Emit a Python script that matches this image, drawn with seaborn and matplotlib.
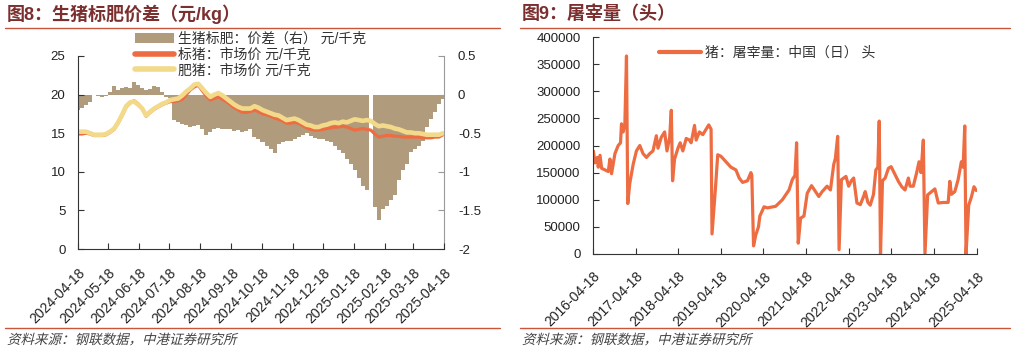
import numpy as np
import pandas as pd
import matplotlib
matplotlib.use('Agg')
import matplotlib.pyplot as plt
import matplotlib.transforms as mtrans
from matplotlib.lines import Line2D
from matplotlib.patches import Patch, PathPatch
from matplotlib.textpath import TextPath
from matplotlib.font_manager import FontProperties
import seaborn as sns

sns.set_style('ticks')
plt.rcParams['font.family'] = ['Liberation Sans', 'Noto Sans CJK SC']
plt.rcParams['axes.unicode_minus'] = False

# ---- 图8 数据：每4天一个点，2024-04-18起 ----
dates_l = pd.date_range('2024-04-18', periods=92, freq='4D')
spread = [-0.20, -0.18, -0.14, -0.10, -0.01, -0.02, -0.03, -0.02, 0.03, 0.11,
          0.06, 0.08, 0.10, 0.09, 0.16, 0.12, 0.09, 0.06, 0.07, 0.11,
          0.10, 0.03, -0.03, -0.05, -0.33, -0.36, -0.38, -0.40, -0.42, -0.41,
          -0.40, -0.45, -0.52, -0.48, -0.44, -0.43, -0.44, -0.45, -0.44, -0.47,
          -0.46, -0.48, -0.47, -0.44, -0.55, -0.58, -0.62, -0.66, -0.70, -0.76,
          -0.64, -0.62, -0.60, -0.60, -0.58, -0.55, -0.52, -0.50, -0.54, -0.56,
          -0.58, -0.58, -0.60, -0.62, -0.66, -0.72, -0.76, -0.84, -0.90, -0.98,
          -1.08, -1.18, -1.24, 0.0, -1.45, -1.62, -1.48, -1.44, -1.36, -1.30,
          -1.10, -0.98, -0.90, -0.74, -0.70, -0.66, -0.60, -0.42, -0.32, -0.22,
          -0.12, -0.06]
std_pig = [14.9, 14.9, 15.0, 14.9, 14.7, 14.7, 14.7, 14.8, 15.1, 15.5,
           16.3, 17.3, 18.4, 18.9, 19.2, 18.8, 18.2, 17.2, 17.7, 18.1,
           18.4, 18.7, 18.9, 19.1, 19.1, 19.2, 19.4, 20.0, 20.6, 21.0,
           21.2, 20.5, 19.8, 19.3, 19.5, 19.7, 19.4, 19.1, 18.7, 18.3,
           18.0, 17.7, 17.7, 17.8, 18.0, 17.8, 17.5, 17.4, 17.2, 17.0,
           16.8, 16.6, 16.3, 16.3, 16.4, 16.3, 16.0, 15.7, 15.5, 15.4,
           15.4, 15.5, 15.6, 15.7, 15.8, 15.8, 15.9, 15.8, 15.6, 15.4,
           15.5, 15.6, 15.5, 15.4, 14.9, 14.5, 14.6, 14.7, 14.7, 14.6,
           14.6, 14.5, 14.5, 14.5, 14.5, 14.5, 14.4, 14.4, 14.4, 14.5,
           14.5, 14.8]
fat_pig = [15.2, 15.2, 15.2, 15.0, 14.8, 14.8, 14.8, 14.9, 15.2, 15.6,
           16.4, 17.4, 18.5, 19.0, 19.1, 18.7, 18.2, 17.3, 17.8, 18.2,
           18.5, 18.8, 19.0, 19.3, 19.4, 19.5, 19.9, 20.4, 20.8, 21.3,
           21.4, 20.8, 20.2, 19.7, 20.0, 20.2, 19.9, 19.5, 19.1, 18.7,
           18.4, 18.2, 18.2, 18.2, 18.5, 18.3, 18.0, 17.8, 17.6, 17.4,
           17.3, 17.0, 16.7, 16.8, 16.9, 16.7, 16.4, 16.1, 16.0, 15.8,
           15.8, 16.0, 16.1, 16.3, 16.4, 16.3, 16.5, 16.4, 16.6, 16.8,
           16.7, 16.6, 16.7, 16.6, 16.2, 15.9, 16.0, 15.9, 15.8, 15.6,
           15.5, 15.3, 15.1, 15.1, 15.0, 15.0, 14.9, 14.8, 14.8, 14.8,
           14.8, 15.0]
xt_left = ['2024-04-18', '2024-05-18', '2024-06-18', '2024-07-18', '2024-08-18',
           '2024-09-18', '2024-10-18', '2024-11-18', '2024-12-18', '2025-01-18',
           '2025-02-18', '2025-03-18', '2025-04-18']

# ---- 图9 数据：屠宰量（头） ----
dates_r = ['2016-04-21', '2016-05-05', '2016-05-25', '2016-06-02', '2016-06-17',
           '2016-07-01', '2016-07-29', '2016-08-27', '2016-09-10', '2016-09-24',
           '2016-10-23', '2016-11-20', '2016-12-10', '2016-12-18', '2017-01-02',
           '2017-01-16', '2017-01-30', '2017-02-10', '2017-02-27', '2017-03-28',
           '2017-04-25', '2017-05-24', '2017-06-21', '2017-07-20', '2017-08-17',
           '2017-09-14', '2017-10-13', '2017-10-27', '2017-11-24', '2017-12-23',
           '2018-01-12', '2018-02-04', '2018-02-18', '2018-03-01', '2018-03-18',
           '2018-04-16', '2018-05-05', '2018-05-28', '2018-06-26', '2018-07-24',
           '2018-08-07', '2018-09-05', '2018-09-19', '2018-10-17', '2018-11-15',
           '2018-12-13', '2019-01-05', '2019-01-25', '2019-02-02', '2019-03-03',
           '2019-03-23', '2019-04-20', '2019-06-02', '2019-07-14', '2019-08-26',
           '2019-09-23', '2019-10-22', '2019-12-03', '2020-01-01', '2020-01-09',
           '2020-01-24', '2020-02-12', '2020-03-06', '2020-03-18', '2020-04-23',
           '2020-05-22', '2020-08-01', '2020-09-27', '2020-11-23', '2020-12-21',
           '2021-01-13', '2021-01-27', '2021-02-10', '2021-03-02', '2021-03-31',
           '2021-04-28', '2021-06-04', '2021-07-08', '2021-08-05', '2021-09-03',
           '2021-10-15', '2021-11-13', '2021-12-11', '2021-12-25', '2022-01-14',
           '2022-01-26', '2022-02-15', '2022-03-26', '2022-04-18', '2022-05-11',
           '2022-05-31', '2022-06-28', '2022-07-27', '2022-08-24', '2022-09-07',
           '2022-09-30', '2022-10-20', '2022-11-17', '2022-12-07', '2022-12-24',
           '2023-01-05', '2023-01-16', '2023-02-02', '2023-02-25', '2023-03-25',
           '2023-04-17', '2023-05-21', '2023-06-18', '2023-07-17', '2023-08-14',
           '2023-09-12', '2023-09-26', '2023-10-24', '2023-11-22', '2023-12-12',
           '2023-12-29', '2024-01-18', '2024-02-01', '2024-02-24', '2024-03-29',
           '2024-04-26', '2024-05-25', '2024-07-06', '2024-08-18', '2024-09-01',
           '2024-09-15', '2024-10-14', '2024-11-11', '2024-12-09', '2024-12-24',
           '2025-01-07', '2025-01-18', '2025-02-10', '2025-03-05', '2025-03-27',
           '2025-04-16']
slaughter = [190000, 168000, 178000, 160000, 182000, 158000, 155000, 152000, 175000, 148000,
             185000, 200000, 205000, 240000, 225000, 240000, 365000, 93000, 130000, 165000,
             190000, 200000, 185000, 178000, 185000, 190000, 218000, 195000, 215000, 225000,
             190000, 215000, 265000, 135000, 175000, 195000, 205000, 190000, 213000, 210000,
             205000, 237000, 210000, 225000, 220000, 230000, 238000, 230000, 37000, 120000,
             183000, 180000, 170000, 160000, 155000, 140000, 132000, 135000, 150000, 145000,
             15000, 35000, 50000, 70000, 87000, 85000, 88000, 100000, 118000, 137000,
             145000, 205000, 20000, 66000, 70000, 112000, 126000, 115000, 106000, 115000,
             125000, 118000, 165000, 176000, 217000, 8000, 137000, 143000, 125000, 135000,
             140000, 94000, 91000, 106000, 115000, 95000, 90000, 110000, 155000, 160000,
             245000, 0, 135000, 140000, 158000, 161000, 146000, 134000, 124000, 118000,
             140000, 125000, 125000, 150000, 170000, 150000, 210000, 0, 109000, 115000,
             120000, 94000, 95000, 95000, 134000, 110000, 115000, 137000, 170000, 160000,
             236000, 0, 90000, 105000, 124000, 117000]
xt_right = ['2016-04-18', '2017-04-18', '2018-04-18', '2019-04-18', '2020-04-18',
            '2021-04-18', '2022-04-18', '2023-04-18', '2024-04-18', '2025-04-18']

c_bar = '#B09B7C'
c_std = '#EE6C42'
c_fat = '#F3DA8A'
c_title = '#7B2F2F'
c_rule = '#C9553A'
c_text = '#222222'

W, H = 1017, 352
fig = plt.figure(figsize=(W / 100, H / 100), dpi=100)


def px(x0, y0, x1, y1):
    return [x0 / W, 1 - y1 / H, (x1 - x0) / W, (y1 - y0) / H]


def style_xlabels(ax, labels, dx):
    ax.set_xticks(pd.to_datetime(labels))
    ax.set_xticklabels(labels, rotation=45, ha='right', va='top',
                       rotation_mode='anchor', fontsize=10, color=c_text)
    off = mtrans.ScaledTranslation(dx / 100, 0, fig.dpi_scale_trans)
    for lab in ax.get_xticklabels():
        lab.set_transform(lab.get_transform() + off)


# ---------- 图8 ----------
ax = fig.add_axes(px(78, 56, 444, 249))
ax2 = ax.twinx()
ax2.bar(dates_l, spread, width=4.0, color=c_bar, linewidth=0)
sns.lineplot(x=dates_l, y=std_pig, ax=ax, color=c_std, lw=2.3)
sns.lineplot(x=dates_l, y=fat_pig, ax=ax, color=c_fat, lw=3.3)
ax.set_zorder(ax2.get_zorder() + 1)
ax.patch.set_visible(False)
ax.set_xlim(pd.Timestamp('2024-04-18'), pd.Timestamp('2025-04-18'))
ax.set_ylim(0, 25)
ax2.set_ylim(-2, 0.5)
ax.set_yticks([0, 5, 10, 15, 20, 25])
ax2.set_yticks([-2, -1.5, -1, -0.5, 0, 0.5])
ax2.set_yticklabels(['-2', '-1.5', '-1', '-0.5', '0', '0.5'])
style_xlabels(ax, xt_left, 4)
ax.tick_params(axis='x', direction='in', length=4, pad=12, colors='#333333', labelcolor=c_text)
ax.tick_params(axis='y', direction='in', length=4, pad=9, labelsize=9.5, colors='#333333', labelcolor=c_text)
ax2.tick_params(axis='y', direction='in', length=4, pad=10, labelsize=9.5, colors='#999999', labelcolor=c_text)
ax.set_xlabel('')
ax.set_ylabel('')
for s in ['top', 'right']:
    ax.spines[s].set_visible(False)
for s in ['top', 'left', 'bottom']:
    ax2.spines[s].set_visible(False)
ax2.spines['right'].set_color('#999999')
ax.spines['left'].set_color('#333333')
ax.spines['bottom'].set_color('#333333')

h1 = [Patch(facecolor=c_bar, edgecolor='none'),
      Line2D([], [], color=c_std, lw=4),
      Line2D([], [], color=c_fat, lw=4)]
fig.legend(h1, ['生猪标肥：价差（右） 元/千克', '标猪：市场价 元/千克', '肥猪：市场价 元/千克'],
           loc='upper left', bbox_to_anchor=(135 / W, 1 - 32 / H), frameon=False,
           fontsize=10, handlelength=2.8, handletextpad=0.3, labelspacing=0.12,
           borderpad=0, borderaxespad=0, labelcolor='#333333')

# ---------- 图9 ----------
ax3 = fig.add_axes(px(593, 37, 977, 254))
sns.lineplot(x=pd.to_datetime(dates_r), y=slaughter, ax=ax3, color=c_std, lw=2.3)
ax3.set_xlim(pd.Timestamp('2016-04-18'), pd.Timestamp('2025-04-22'))
ax3.set_ylim(0, 400000)
yt = list(range(0, 400001, 50000))
ax3.set_yticks(yt)
ax3.set_yticklabels([str(v) for v in yt])
style_xlabels(ax3, xt_right, 2)
ax3.tick_params(axis='x', direction='in', length=4, pad=11, colors='#333333', labelcolor=c_text)
ax3.tick_params(axis='y', direction='in', length=4, pad=9, labelsize=9.5, colors='#333333', labelcolor=c_text)
ax3.set_xlabel('')
ax3.set_ylabel('')
for s in ['top', 'right']:
    ax3.spines[s].set_visible(False)
ax3.spines['left'].set_color('#333333')
ax3.spines['bottom'].set_color('#333333')
fig.legend([Line2D([], [], color=c_std, lw=3)], ['猪：屠宰量：中国（日） 头'],
           loc='upper left', bbox_to_anchor=(659 / W, 1 - 46 / H), frameon=False,
           fontsize=10, handlelength=3.0, handletextpad=0.3,
           borderpad=0, borderaxespad=0, labelcolor='#333333')

# ---------- 标题、分隔线、来源 ----------
src = '资料来源：钢联数据，中港证券研究所'
cjk = FontProperties(family='Noto Sans CJK SC')
for x0, x1, title in [(5, 500, '图8：生猪标肥价差（元/kg）'), (520, 1010, '图9：屠宰量（头）')]:
    fig.text((x0 + 2) / W, 1 - 14 / H, title, fontsize=13, fontweight='bold',
             color=c_title, va='center', ha='left')
    fig.add_artist(Line2D([x0 / W, x1 / W], [1 - 28 / H] * 2, color=c_rule, lw=1))
    fig.add_artist(Line2D([x0 / W, x1 / W], [1 - 328 / H] * 2, color=c_rule, lw=1))
    # 来源用斜体（字体无斜体，做倾斜变换）
    tp = TextPath((0, 0), src, size=13.5, prop=cjk)
    tr = mtrans.Affine2D().skew_deg(14, 0).translate(x0 + 2, H - 344)
    fig.add_artist(PathPatch(tp, transform=tr, facecolor='#444444', edgecolor='none', lw=0))

fig.savefig('out.png', dpi=100)
